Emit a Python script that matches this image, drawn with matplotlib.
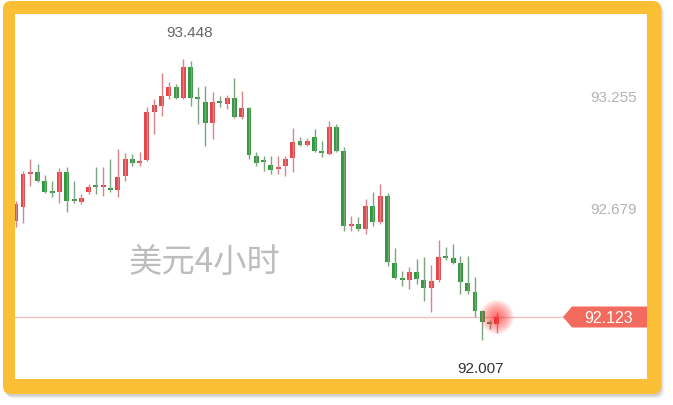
import numpy as np
import matplotlib.pyplot as plt
from matplotlib.patches import FancyBboxPatch, Rectangle, Polygon, Circle

plt.rcParams['font.family'] = ['Liberation Sans', 'DejaVu Sans']

# 4h candles, first one is cut off by the left edge
opens = [92.617, 92.689, 92.859, 92.869, 92.823, 92.766, 92.766, 92.869, 92.725, 92.715,
         92.766, 92.797, 92.792, 92.787, 92.776, 92.849, 92.936, 92.915, 92.931, 93.178,
         93.209, 93.260, 93.306, 93.250, 93.409, 93.250, 93.229, 93.121, 93.234, 93.219,
         93.250, 93.152, 93.198, 92.951, 92.926, 92.905, 92.885, 92.900, 92.941, 93.029,
         93.008, 93.049, 92.972, 92.962, 93.101, 92.977, 92.591, 92.602, 92.576, 92.694,
         92.612, 92.746, 92.401, 92.319, 92.314, 92.355, 92.314, 92.272, 92.314, 92.437,
         92.427, 92.401, 92.298, 92.252, 92.154, 92.097, 92.087]
closes = [92.704, 92.859, 92.869, 92.823, 92.766, 92.761, 92.869, 92.720, 92.720, 92.735,
          92.792, 92.792, 92.797, 92.776, 92.843, 92.936, 92.915, 92.926, 93.178, 93.214,
          93.260, 93.306, 93.250, 93.409, 93.250, 93.245, 93.121, 93.229, 93.224, 93.250,
          93.152, 93.198, 92.957, 92.915, 92.921, 92.879, 92.895, 92.936, 93.023, 93.008,
          93.029, 92.977, 92.967, 93.101, 92.977, 92.591, 92.602, 92.576, 92.694, 92.612,
          92.746, 92.406, 92.324, 92.314, 92.355, 92.319, 92.272, 92.308, 92.432, 92.427,
          92.401, 92.303, 92.257, 92.154, 92.097, 92.087, 92.123]
highs = [92.720, 92.874, 92.936, 92.910, 92.854, 92.823, 92.890, 92.895, 92.823, 92.756,
         92.807, 92.895, 92.895, 92.936, 92.987, 92.967, 92.962, 92.972, 93.203, 93.245,
         93.378, 93.332, 93.322, 93.448, 93.440, 93.306, 93.311, 93.281, 93.260, 93.265,
         93.353, 93.286, 93.203, 92.972, 92.951, 92.951, 92.951, 92.951, 93.095, 93.049,
         93.044, 93.090, 93.029, 93.131, 93.116, 92.998, 92.643, 92.638, 92.730, 92.766,
         92.807, 92.761, 92.478, 92.360, 92.380, 92.422, 92.432, 92.391, 92.519, 92.483,
         92.499, 92.437, 92.437, 92.329, 92.159, 92.108, 92.144]
lows = [92.586, 92.607, 92.797, 92.818, 92.761, 92.741, 92.710, 92.663, 92.710, 92.705,
        92.756, 92.756, 92.746, 92.766, 92.741, 92.823, 92.900, 92.900, 92.926, 93.065,
        93.157, 93.245, 93.245, 93.245, 93.209, 93.116, 93.003, 93.039, 93.203, 93.193,
        93.147, 93.142, 92.936, 92.900, 92.874, 92.859, 92.859, 92.849, 92.869, 93.003,
        93.003, 92.972, 92.946, 92.957, 92.972, 92.566, 92.566, 92.566, 92.550, 92.591,
        92.602, 92.386, 92.319, 92.283, 92.267, 92.293, 92.206, 92.149, 92.303, 92.416,
        92.396, 92.241, 92.241, 92.123, 92.007, 92.061, 92.041]

axis_labels = ["93.255", "92.679"]
title = "美元4小时"

RED = "#e2474b"
GREEN = "#319a3f"
YELLOW = "#fbbf36"

W, H = 673, 406
fig = plt.figure(figsize=(W / 100, H / 100), dpi=100)

# background: frame and shadow, pixel coords
bg = fig.add_axes([0, 0, 1, 1])
bg.set_xlim(0, W)
bg.set_ylim(H, 0)
bg.axis("off")
for k, a in enumerate([0.08, 0.06, 0.04, 0.02]):
    bg.add_patch(FancyBboxPatch((4 + k, 4 + k), 658, 393,
                                boxstyle="round,pad=0,rounding_size=8",
                                fc="black", ec="none", alpha=a))
bg.add_patch(FancyBboxPatch((3, 2), 658, 393, boxstyle="round,pad=0,rounding_size=8",
                            fc=YELLOW, ec="none"))
bg.add_patch(Rectangle((15, 15), 632, 365, fc="white", ec="none"))
bg.text(205, 262, title, fontsize=24, color="#bdbdbd", ha="center", va="center",
        family=["Noto Sans CJK SC", "DejaVu Sans"])

# candles
ax = fig.add_axes([15 / W, 1 - 380 / H, 632 / W, 365 / H])
ax.patch.set_alpha(0)
ax.axis("off")
step = 7.29
ax.set_xlim((15 - 23) / step, (647 - 23) / step)
ax.set_ylim(91.804, 93.682)

o = np.array(opens)
c = np.array(closes)
hi = np.array(highs)
lo = np.array(lows)
x = np.arange(-1, len(o) - 1)
up = c >= o
cols = np.where(up, RED, GREEN)
wick_cols = np.where(up, "#d98486", "#7aa57f")

ax.vlines(x, lo, hi, colors=wick_cols, lw=1)
body_lo = np.minimum(o, c)
body_h = np.maximum(np.abs(c - o), 0.008)
ax.bar(x, body_h, bottom=body_lo, width=0.68, color=cols, linewidth=0)

last = closes[-1]
ax.axhline(last, xmin=0, xmax=(563 - 15) / 632, color="#ecc4c4", lw=1, zorder=0)

# overlay: glow, tag, labels
top = fig.add_axes([0, 0, 1, 1])
top.set_xlim(0, W)
top.set_ylim(H, 0)
top.axis("off")
top.patch.set_alpha(0)


def to_px(xd, yd):
    return top.transData.inverted().transform(ax.transData.transform((xd, yd)))


gx, gy = to_px(x[-1], last)
for r in np.linspace(17, 2, 14):
    top.add_patch(Circle((gx, gy), r, fc="#ff2a2a", ec="none", alpha=0.07))

tag = Polygon([(563, gy), (572, gy - 10.5), (647, gy - 10.5), (647, gy + 10.5), (572, gy + 10.5)],
              closed=True, fc="#f26b5e", ec="none")
top.add_patch(tag)
top.text(609, gy + 0.5, f"{last:.3f}", color="white", fontsize=11.5, ha="center", va="center")

for lab in axis_labels:
    _, ly = to_px(0, float(lab))
    top.text(637, ly, lab, color="#b3b3b3", fontsize=11, ha="right", va="center")

imax = int(np.argmax(hi))
hx, hy = to_px(x[imax], hi[imax])
top.text(hx + 6, hy - 27, f"{hi[imax]:.3f}", color="#666666", fontsize=11,
         ha="center", va="center")
imin = int(np.argmin(lo))
mx, my = to_px(x[imin], lo[imin])
top.text(mx - 2, my + 28, f"{lo[imin]:.3f}", color="#333333", fontsize=11,
         ha="center", va="center")

fig.savefig("out.png", dpi=100)
